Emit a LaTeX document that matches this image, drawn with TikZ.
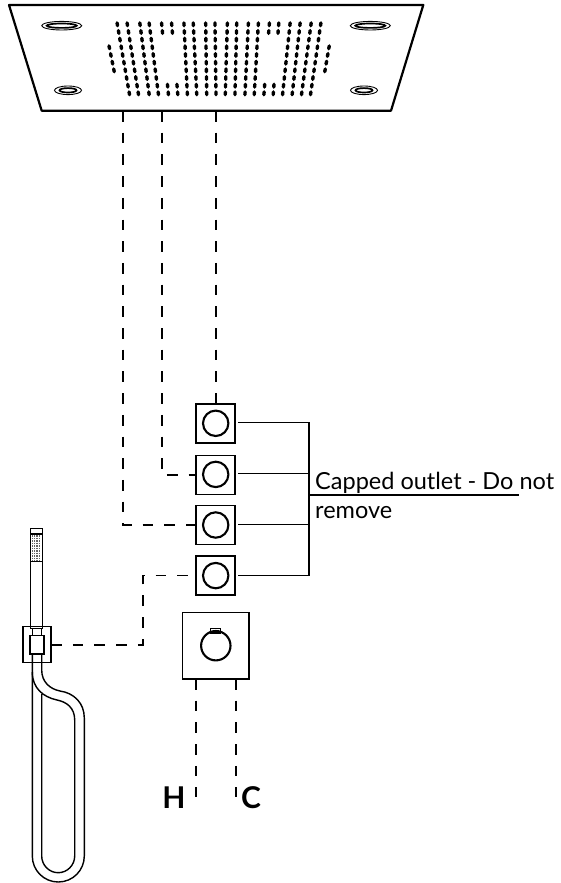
\documentclass[tikz,border=0pt]{standalone}
\usepackage{fontspec}
\setmainfont{Lato}
\begin{document}
\begin{tikzpicture}[x=1pt,y=-1pt]
        \tikzstyle{panel}=[draw=black,line width=2.2pt,line join=round]
        \tikzstyle{valve}=[rectangle,draw=black,line width=1.7pt,outer sep=0pt,inner sep=0pt,minimum size=39pt]
        \tikzstyle{knob}=[circle,draw=black,line width=2.1pt,outer sep=0pt,inner sep=0pt,minimum size=25.4pt]
        \tikzstyle{mixer}=[rectangle,draw=black,line width=1.7pt,outer sep=0pt,inner sep=0pt,minimum size=66.5pt]
        \tikzstyle{edge}=[draw=black,line width=1.6pt]
        \tikzstyle{pipe}=[draw=black,line width=1.6pt,dash pattern=on 10.7pt off 11pt]
        \tikzstyle{hose}=[draw=black,line width=1.4pt,line join=round]
        \tikzstyle{nozzle}=[line width=3.4pt,line cap=round]
        \useasboundingbox (0,0) rectangle (560,883);
        \path[panel] (9,5) -- (423.3,5) -- (391,110.7) -- (41.7,110.7) -- cycle;
        \foreach \px/\py/\rx in {61.7/25.7/20,370.3/25.7/20,68/90.3/13.5,364/90.3/13.5} {
          \draw[line width=.9pt] (\px,\py) ellipse [x radius=\rx,y radius=4.3];
          \draw[line width=1.7pt] (\px,\py) ellipse [x radius=\rx-5,y radius=2.2];
        }
        \foreach \row in {0,...,9} {
          \foreach \col/\topx/\botx in {0/117.3/129.3,1/127.3/138.3,2/140/149,3/149.3/158.3,4/161.7/168.3,5/171.7/177.7,
            6/184/187.3,7/193.3/196.7,8/205.7/206.7,9/215/216,10/227.3/225.3,11/236.7/235,12/248.3/245,13/258.3/254.3,
            14/269.3/264,15/278.7/273.3,16/290/282.7,17/300/292.3,18/311/301.7,19/320.7/310.7} {
            \pgfmathtruncatemacro{\skipdot}{(\row>1 && \row<8 && (\col==4 || \col==5 || \col==14 || \col==15)) ? 1 : 0}
            \ifnum\skipdot=0
              \pgfmathsetmacro{\dotx}{\topx+(\botx-\topx)*\row/9}
              \pgfmathsetmacro{\doty}{24.3+7.67*\row}
              \pgfmathsetmacro{\dotdx}{(\botx-\topx)/50}
              \draw[nozzle] (\dotx-\dotdx,\doty-1.4) -- (\dotx+\dotdx,\doty+1.4);
            \fi
          }
        }
        \foreach \row in {3,...,6} {
          \draw[nozzle] (109.3+1.55*\row-4.65-.3,24.3+7.67*\row-1.4) -- (109.3+1.55*\row-4.65+.3,24.3+7.67*\row+1.4);
          \draw[nozzle] (329-1.33*\row+4+.3,24.3+7.67*\row-1.4) -- (329-1.33*\row+4-.3,24.3+7.67*\row+1.4);
        }
        \coordinate (p1) at (122.7,111);
        \coordinate (p2) at (162,111);
        \coordinate (p3) at (215.7,111);
        \node [valve] (v1) at (215.7,423.3) {};
        \node [valve] (v2) at (215.7,475) {};
        \node [valve] (v3) at (215.7,525) {};
        \node [valve] (v4) at (215.7,575.6) {};
        \node [knob] (k1) at (v1) {};
        \node [knob] (k2) at (215.7,474.4) {};
        \node [knob] (k3) at (v3) {};
        \node [knob] (k4) at (v4) {};
        \coordinate (bus) at (309,495);
        \coordinate (leader) at (519,495);
        \path[edge] (v1) ++(22.5,-.8) -- ++(70.8,0) -- ++(0,153) -- ++(-70.8,0);
        \path[edge] (v2) ++(22.5,-1.5) -- ++(70.8,0);
        \path[edge] (v3) ++(22.5,-.5) -- ++(70.8,0);
        \path[edge] (bus) -- (leader);
        \path[pipe] (p3) -- (v1.north);
        \path[pipe] (p2) -- (p2 |- v2) -- (v2.west);
        \path[pipe] (p1) -- (p1 |- v3) -- (v3.west);
        \node [font=\fontsize{23.5}{29}\selectfont,align=left,anchor=north west,inner sep=0pt] (capped) at (315,472) {Capped outlet - Do not\\remove};
        \node [mixer] (m1) at (215.8,645.7) {};
        \node [circle,draw=black,line width=2.1pt,outer sep=0pt,inner sep=0pt,minimum size=29.4pt] (k5) at (m1) {};
        \node [rectangle,draw=black,line width=1.3pt,outer sep=0pt,inner sep=0pt,minimum width=9.6pt,minimum height=4.8pt] (c5) at (215.5,630.6) {};
        \coordinate (hot) at (196,797);
        \coordinate (cold) at (235.7,797);
        \path[pipe] (hot |- m1.south) -- (hot);
        \path[pipe] (cold |- m1.south) -- (cold);
        \node [font=\fontsize{30}{30}\selectfont\bfseries,anchor=base,inner sep=0pt] (h) at (174,808) {H};
        \node [font=\fontsize{30}{30}\selectfont\bfseries,anchor=base,inner sep=0pt] (c) at (251,808) {C};
        \node [rectangle,draw=black,line width=1.5pt,outer sep=0pt,inner sep=0pt,minimum width=12pt,minimum height=99.6pt] (handle) at (36.7,578.5) {};
        \fill[black!60] (32,535) rectangle (41.4,561.5);
        \foreach \gx in {33,35.5,38,40.5} { \draw[white,line width=.5pt] (\gx,535) -- (\gx,561.5); }
        \foreach \gy in {537,539.5,542,544.5,547,549.5,552,554.5,557,559.5} { \draw[white,line width=.5pt] (32,\gy) -- (41.4,\gy); }
        \draw[line width=1.3pt] (handle.west |- 0,534) -- (handle.east |- 0,534);
        \draw[line width=1.3pt] (handle.west |- 0,561.7) -- (handle.east |- 0,561.7);
        \node [rectangle,draw=black,line width=1.5pt,outer sep=0pt,inner sep=0pt,minimum width=28.3pt,minimum height=36pt] (holder) at (36.9,644.7) {};
        \node [rectangle,draw=black,line width=1.6pt,outer sep=0pt,inner sep=0pt,minimum width=13.7pt,minimum height=18.4pt] (grip) at (36.9,644.5) {};
        \path[hose] (32.3,628.3) -- (32.3,635.3);
        \path[hose] (41.7,628.3) -- (41.7,635.3);
        \path[hose] (32.3,653.7) -- (32.3,856) .. controls (32.3,870.4) and (43.9,882) .. (58.3,882)
          .. controls (72.7,882) and (84.3,870.4) .. (84.3,856) -- (84.3,718)
          .. controls (84.3,703) and (74,693) .. (60,691) .. controls (50,689) and (41.7,682) .. (41.7,670) -- (41.7,653.7);
        \path[hose] (41.7,694) -- (41.7,856) .. controls (41.7,865.1) and (49.1,872.7) .. (58.2,872.7)
          .. controls (67.3,872.7) and (74.7,865.1) .. (74.7,856) -- (74.7,720)
          .. controls (74.7,708) and (67,702) .. (57,700) .. controls (43,697) and (32.3,688) .. (32.3,672);
        \coordinate (corner) at (142.7,644.7);
        \path[pipe] (holder.east) -- (corner) -- (corner |- v4) -- (v4.west);
      \end{tikzpicture}
\end{document}
